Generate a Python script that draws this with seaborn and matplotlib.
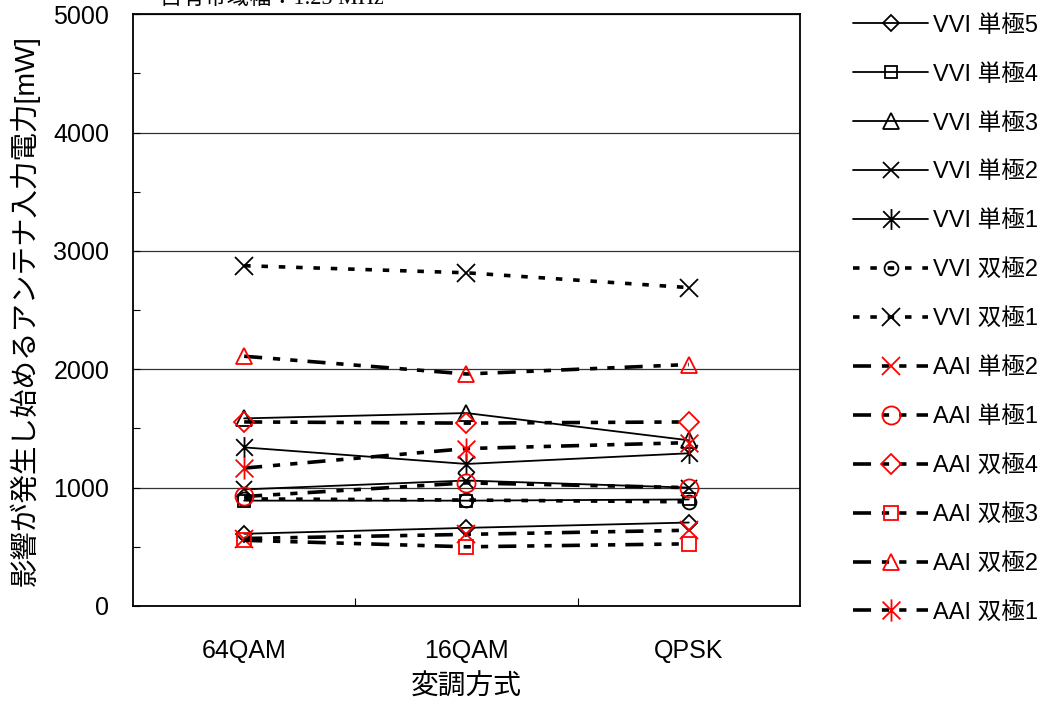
import numpy as np
import pandas as pd
import matplotlib
matplotlib.use("Agg")
import matplotlib.pyplot as plt
from matplotlib.path import Path
import seaborn as sns

# modulation schemes on the x axis
modulations = ["64QAM", "16QAM", "QPSK"]

# threshold antenna input power [mW]
vvi_uni5 = [610, 660, 705]
vvi_uni4 = [890, 890, 900]
vvi_uni3 = [1585, 1630, 1400]
vvi_uni2 = [985, 1060, 1000]
vvi_uni1 = [1340, 1200, 1290]
vvi_bi2 = [905, 895, 880]
vvi_bi1 = [2875, 2815, 2690]
aai_uni2 = [570, 605, 640]
aai_uni1 = [925, 1040, 1000]
aai_bi4 = [1555, 1545, 1555]
aai_bi3 = [555, 500, 525]
aai_bi2 = [2110, 1960, 2040]
aai_bi1 = [1165, 1330, 1380]

series_names = ["VVI 単極5", "VVI 単極4", "VVI 単極3", "VVI 単極2", "VVI 単極1",
                "VVI 双極2", "VVI 双極1",
                "AAI 単極2", "AAI 単極1", "AAI 双極4", "AAI 双極3", "AAI 双極2", "AAI 双極1"]
series_values = [vvi_uni5, vvi_uni4, vvi_uni3, vvi_uni2, vvi_uni1, vvi_bi2, vvi_bi1,
                 aai_uni2, aai_uni1, aai_bi4, aai_bi3, aai_bi2, aai_bi1]

# Excel-style asterisk: an X with a vertical bar
asterisk = Path([(-1, -1), (1, 1), (-1, 1), (1, -1), (0, -1.25), (0, 1.25)],
                [Path.MOVETO, Path.LINETO, Path.MOVETO, Path.LINETO, Path.MOVETO, Path.LINETO])

solid = "-"
dotted = (0, (1.8, 3.0))
# long dash - dot - dot
dashdotdot = (0, (5.0, 3.0, 2.0, 2.8, 2.0, 2.8))

styles = {
    "VVI 単極5": dict(marker="D", ms=8, ls=solid, lw=1.3, mec="black"),
    "VVI 単極4": dict(marker="s", ms=9, ls=solid, lw=1.3, mec="black"),
    "VVI 単極3": dict(marker="^", ms=11, ls=solid, lw=1.3, mec="black"),
    "VVI 単極2": dict(marker="x", ms=11, ls=solid, lw=1.3, mec="black"),
    "VVI 単極1": dict(marker=asterisk, ms=15, ls=solid, lw=1.3, mec="black"),
    "VVI 双極2": dict(marker="o", ms=10, ls=dotted, lw=2.6, mec="black"),
    "VVI 双極1": dict(marker="x", ms=13, ls=dotted, lw=2.6, mec="black"),
    "AAI 単極2": dict(marker="x", ms=13, ls=dashdotdot, lw=2.6, mec="red"),
    "AAI 単極1": dict(marker="o", ms=13, ls=dashdotdot, lw=2.6, mec="red"),
    "AAI 双極4": dict(marker="D", ms=10, ls=dashdotdot, lw=2.6, mec="red"),
    "AAI 双極3": dict(marker="s", ms=10, ls=dashdotdot, lw=2.6, mec="red"),
    "AAI 双極2": dict(marker="^", ms=12, ls=dashdotdot, lw=2.6, mec="red"),
    "AAI 双極1": dict(marker=asterisk, ms=16, ls=dashdotdot, lw=2.6, mec="red"),
}

sns.set_style("white")
plt.rcParams["font.family"] = ["Liberation Sans", "Noto Sans CJK JP", "DejaVu Sans"]
plt.rcParams["text.color"] = "black"
plt.rcParams["axes.labelcolor"] = "black"
plt.rcParams["xtick.color"] = "black"
plt.rcParams["ytick.color"] = "black"

fig = plt.figure(figsize=(10.43, 7.09), dpi=100)
ax = fig.add_axes([0.1275, 0.1453, 0.6395, 0.8347])

for name, vals in zip(series_names, series_values):
    st = styles[name]
    sns.lineplot(x=modulations, y=vals, ax=ax, sort=False, color="black",
                 linestyle=st["ls"], linewidth=st["lw"], marker=st["marker"],
                 markersize=st["ms"], markeredgecolor=st["mec"], markerfacecolor="none",
                 markeredgewidth=1.3, label=name)

ax.set_xlim(-0.5, 2.5)
ax.set_ylim(0, 5000)
ax.set_yticks(np.arange(0, 5001, 1000))
ax.set_yticks(np.arange(500, 5000, 1000), minor=True)
ax.set_xticks([0, 1, 2])
ax.set_xticklabels(modulations)
ax.set_xticks([0.5, 1.5], minor=True)
ax.yaxis.grid(True, which="major", color="#333333", linewidth=0.9)
ax.xaxis.grid(False)
ax.tick_params(axis="y", which="both", direction="in", length=5, width=0.8,
               labelsize=18, pad=17, left=True)
ax.tick_params(axis="x", which="major", length=0, labelsize=18, pad=24)
ax.tick_params(axis="x", which="minor", direction="in", length=6, width=0.8,
               bottom=True)
for sp in ax.spines.values():
    sp.set_color("black")
    sp.set_linewidth(1.3)

ax.set_xlabel("変調方式", fontsize=20, labelpad=8)
ax.set_ylabel("影響が発生し始めるアンテナ入力電力[mW]", fontsize=20.5)
ax.yaxis.set_label_coords((40 - 133) / 667, 0.5)

ax.legend(loc="upper left", bbox_to_anchor=(1.065, 1.015), frameon=False,
          fontsize=17, handlelength=3.2, labelspacing=1.14, handletextpad=0.2,
          borderaxespad=0)

fig.text(0.153, 1 - 4 / 709, "占有帯域幅：1.25 MHz", fontsize=16, va="baseline",
         family=["Liberation Serif", "Noto Sans CJK JP"])

fig.savefig("out.png", dpi=100)
